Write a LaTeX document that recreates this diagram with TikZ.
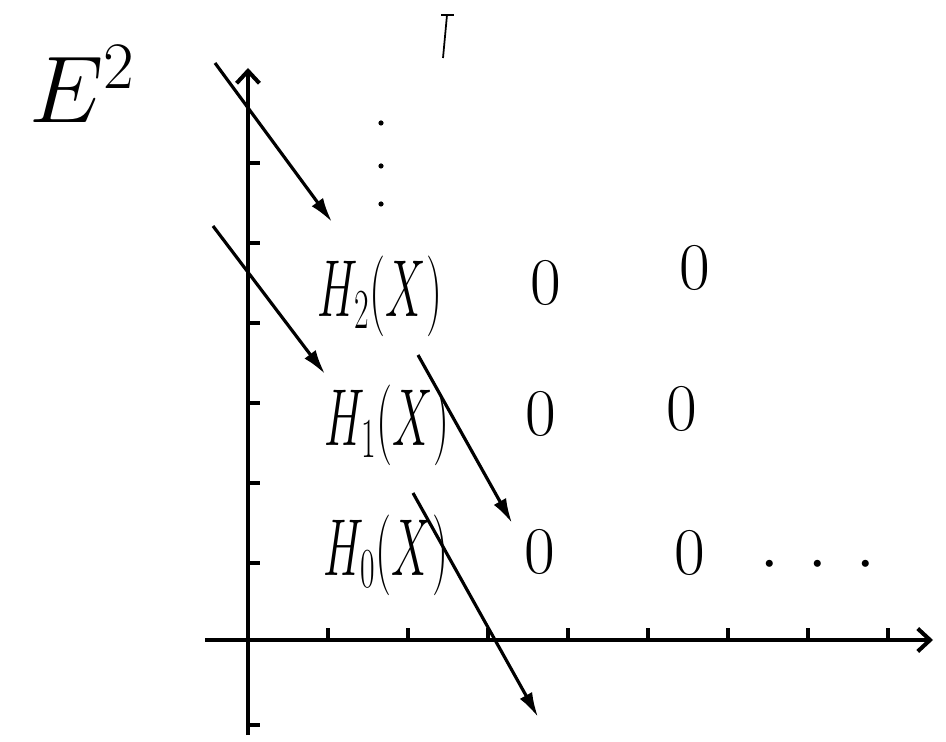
\RequirePackage{fix-cm}
\documentclass[tikz,border=0pt]{standalone}
\usepackage{amsmath}
\usepackage{graphicx}
\usepackage{tikz}
\usetikzlibrary{arrows.meta,positioning,calc}

% narrow hand-written look for the row labels
\newcommand{\rowlab}[1]{\scalebox{0.56}[1]{#1}}

\begin{document}
\begin{tikzpicture}[x=0.02cm,y=-0.02cm,
  axis/.style={line width=2.3pt,-{Straight Barb[length=7pt,width=13pt]}},
  tickmark/.style={line width=1.8pt},
  diff/.style={line width=1.8pt,-{Latex[length=14pt,width=8pt]}},
  entry/.style={font=\fontsize{46}{50}\selectfont,inner sep=0pt},
  zero/.style={font=\fontsize{38}{42}\selectfont,inner sep=0pt}]
  \useasboundingbox (0,0) rectangle (946,742);

  % Axes of the E^2 page, with unit ticks.
  \coordinate (ybot) at (248,735);
  \coordinate (ytop) at (248,68);
  \coordinate (xleft) at (205,640);
  \coordinate (xright) at (933,640);
  \draw[axis] (ybot) -- (ytop);
  \draw[axis] (xleft) -- (xright);
  \foreach \x in {328,408,...,888}
    \draw[tickmark] (\x,640) -- (\x,628);
  \foreach \y in {163,243,...,563,725}
    \draw[tickmark] (248,\y) -- (260,\y);

  % Title and the column q=0 entries.
  \node[entry,font=\fontsize{54}{58}\selectfont] (E2) at (82,84) {$E^2$};
  \node[entry] (H2) at (380,296) {\rowlab{$H_2(X)$}};
  \node[entry] (H1) at (387,425) {\rowlab{$H_1(X)$}};
  \node[entry] (H0) at (386,555) {\rowlab{$H_0(X)$}};

  % Zeros in the higher columns.
  \node[zero] (z21) at (546,283) {$0$};
  \node[zero] (z22) at (695,268) {$0$};
  \node[zero] (z11) at (541,414) {$0$};
  \node[zero] (z12) at (682,409) {$0$};
  \node[zero] (z01) at (540,552) {$0$};
  \node[zero] (z02) at (690,553) {$0$};
  \node[zero] (hdots) at (818,566) {$\cdotp\;\cdotp\;\cdotp$};

  % Vertical dots above H_2 and the stray mark at the top.
  \foreach \py in {123,166,204}
    \fill (381,\py) circle (2.6);
  \draw[line width=1pt] (447,15) -- (443,58);
  \draw[line width=1pt] (441,15) -- (454,15);

  % d_2 differentials.
  \coordinate (d1s) at (215,63);
  \coordinate (d1e) at (332,222);
  \coordinate (d2s) at (213,226);
  \coordinate (d2e) at (325,374);
  \coordinate (d3s) at (418,355);
  \coordinate (d3e) at (512,523);
  \coordinate (d4s) at (413,493);
  \coordinate (d4e) at (538,717);
  \draw[diff] (d1s) -- (d1e);
  \draw[diff] (d2s) -- (d2e);
  \draw[diff] (d3s) -- (d3e);
  \draw[diff] (d4s) -- (d4e);
\end{tikzpicture}
\end{document}
